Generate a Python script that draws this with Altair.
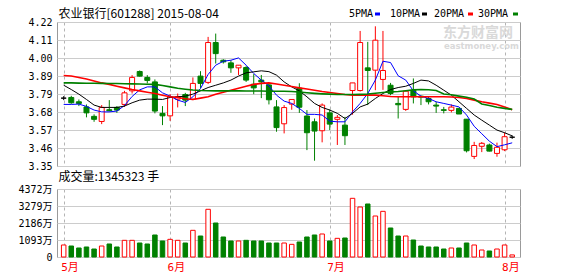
import altair as alt
import pandas as pd

# ---------------- data ----------------
opens = [3.760, 3.764, 3.738, 3.707, 3.650, 3.619, 3.690, 3.704, 3.722, 3.804,
         3.921, 3.885, 3.858, 3.668, 3.653, 3.754, 3.782, 3.754, 3.893, 3.855,
         4.096, 3.989, 3.973, 3.943, 3.945, 3.844, 3.869, 3.840, 3.707, 3.605,
         3.724, 3.820, 3.652, 3.617, 3.563, 3.671, 3.632, 3.597, 3.806, 3.806,
         3.943, 3.929, 3.873, 3.838, 3.728, 3.692, 3.808, 3.772, 3.758, 3.718,
         3.690, 3.686, 3.698, 3.633, 3.408, 3.469, 3.477, 3.426, 3.448, 3.524]
highs = [3.772, 3.774, 3.752, 3.722, 3.662, 3.718, 3.748, 3.712, 3.804, 3.899,
         3.927, 3.899, 3.873, 3.712, 3.784, 3.788, 3.792, 3.885, 3.923, 4.130,
         4.150, 3.995, 3.989, 3.960, 3.953, 3.905, 3.900, 3.852, 3.748, 3.718,
         3.752, 3.850, 3.688, 3.637, 3.728, 3.692, 3.658, 3.647, 3.852, 4.166,
         4.100, 4.194, 4.166, 3.852, 3.768, 3.808, 3.879, 3.775, 3.768, 3.738,
         3.707, 3.722, 3.700, 3.633, 3.496, 3.495, 3.485, 3.491, 3.552, 3.535]
lows = [3.748, 3.726, 3.712, 3.644, 3.617, 3.603, 3.680, 3.671, 3.707, 3.788,
        3.890, 3.849, 3.668, 3.597, 3.623, 3.704, 3.712, 3.748, 3.820, 3.845,
        3.969, 3.969, 3.913, 3.900, 3.858, 3.784, 3.760, 3.722, 3.557, 3.547,
        3.690, 3.671, 3.446, 3.382, 3.493, 3.567, 3.477, 3.477, 3.660, 3.800,
        3.718, 3.808, 3.810, 3.778, 3.637, 3.683, 3.728, 3.718, 3.722, 3.671,
        3.668, 3.674, 3.664, 3.432, 3.392, 3.434, 3.438, 3.406, 3.440, 3.514]
closes = [3.760, 3.732, 3.728, 3.671, 3.632, 3.704, 3.684, 3.688, 3.792, 3.885,
          3.893, 3.867, 3.682, 3.653, 3.768, 3.768, 3.748, 3.849, 3.849, 4.096,
          4.029, 3.979, 3.943, 3.959, 3.869, 3.822, 3.858, 3.750, 3.582, 3.703,
          3.752, 3.705, 3.551, 3.561, 3.718, 3.603, 3.644, 3.533, 3.852, 4.096,
          3.927, 4.110, 3.927, 3.788, 3.720, 3.802, 3.768, 3.766, 3.738, 3.712,
          3.686, 3.706, 3.664, 3.442, 3.474, 3.487, 3.440, 3.463, 3.527, 3.524]
volumes = [772, 707, 579, 643, 514, 707, 836, 643, 1072, 1072,
           900, 836, 1415, 1029, 1136, 1072, 900, 1715, 1350, 3067,
           2186, 1286, 1029, 1029, 1072, 1029, 1029, 900, 900, 900,
           814, 965, 1286, 1415, 1479, 1029, 1200, 1222, 3773, 3215,
           3408, 2636, 2936, 1865, 1350, 1350, 1093, 707, 643, 643,
           514, 579, 579, 900, 772, 450, 386, 514, 772, 134.5]
ma5 = [3.722, 3.722, 3.724, 3.710, 3.688, 3.677, 3.677, 3.682, 3.715, 3.770,
       3.810, 3.828, 3.828, 3.792, 3.772, 3.748, 3.734, 3.768, 3.818, 3.903,
       3.959, 3.983, 3.989, 4.003, 3.959, 3.909, 3.869, 3.834, 3.778, 3.742,
       3.728, 3.698, 3.662, 3.662, 3.658, 3.621, 3.617, 3.617, 3.677, 3.728,
       3.788, 3.869, 3.983, 3.975, 3.895, 3.869, 3.804, 3.772, 3.758, 3.738,
       3.728, 3.718, 3.707, 3.658, 3.590, 3.545, 3.500, 3.467, 3.478, 3.490]
ma10 = [3.838, 3.812, 3.784, 3.752, 3.718, 3.704, 3.704, 3.704, 3.712, 3.732,
        3.748, 3.754, 3.754, 3.752, 3.764, 3.768, 3.772, 3.784, 3.804, 3.824,
        3.838, 3.852, 3.869, 3.893, 3.913, 3.919, 3.925, 3.920, 3.899, 3.858,
        3.828, 3.804, 3.768, 3.728, 3.704, 3.688, 3.668, 3.637, 3.668, 3.707,
        3.724, 3.758, 3.788, 3.812, 3.824, 3.832, 3.849, 3.869, 3.864, 3.838,
        3.808, 3.778, 3.738, 3.698, 3.658, 3.627, 3.597, 3.567, 3.551, 3.532]
ma20 = [3.897, 3.894, 3.885, 3.876, 3.864, 3.852, 3.843, 3.832, 3.822, 3.812,
        3.804, 3.796, 3.788, 3.778, 3.768, 3.764, 3.756, 3.752, 3.760, 3.768,
        3.784, 3.796, 3.808, 3.820, 3.832, 3.843, 3.849, 3.852, 3.845, 3.838,
        3.830, 3.822, 3.815, 3.808, 3.800, 3.794, 3.788, 3.782, 3.778, 3.778,
        3.778, 3.778, 3.774, 3.770, 3.768, 3.768, 3.768, 3.768, 3.768, 3.768,
        3.768, 3.767, 3.764, 3.758, 3.748, 3.738, 3.730, 3.722, 3.707, 3.690]
ma30 = [3.852, 3.852, 3.851, 3.850, 3.850, 3.849, 3.848, 3.848, 3.847, 3.846,
        3.845, 3.844, 3.843, 3.836, 3.828, 3.820, 3.814, 3.809, 3.806, 3.805,
        3.804, 3.804, 3.804, 3.804, 3.803, 3.803, 3.803, 3.802, 3.802, 3.802,
        3.800, 3.797, 3.793, 3.789, 3.786, 3.784, 3.782, 3.782, 3.782, 3.783,
        3.785, 3.790, 3.794, 3.798, 3.800, 3.805, 3.810, 3.812, 3.811, 3.806,
        3.785, 3.780, 3.772, 3.765, 3.755, 3.725, 3.715, 3.705, 3.698, 3.692]

month_idx = [0, 14, 35, 58]
month_labels = ["5月", "6月", "7月", "8月"]
price_ticks = [3.35, 3.45875, 3.5675, 3.67625, 3.785, 3.89375, 4.0025, 4.11125, 4.22]
price_labels = ["3.35", "3.46", "3.57", "3.68", "3.79", "3.89", "4.00", "4.11", "4.22"]
vol_ticks = [0, 1093, 2186, 3279, 4372]
vol_labels = ["0", "1093万", "2186万", "3279万", "4372万"]
title_text = "农业银行[601288] 2015-08-04"
vol_title = "成交量:1345323 手"
ma_names = ["5PMA", "10PMA", "20PMA", "30PMA"]
ma_fields = ["ma5", "ma10", "ma20", "ma30"]
ma_colors = ["#0000ff", "#000000", "#ff0000", "#008000"]
watermark_cn = "东方财富网"
watermark_en = "eastmoney.com"

# ---------------- chart ----------------
df = pd.DataFrame({"i": list(range(len(opens))), "open": opens, "high": highs,
                   "low": lows, "close": closes, "volume": volumes,
                   "ma5": ma5, "ma10": ma10, "ma20": ma20, "ma30": ma30})


def label_expr(vals, labels):
    expr = "''"
    for v, l in reversed(list(zip(vals, labels))):
        expr = f"abs(datum.value - {v}) < 1e-6 ? '{l}' : ({expr})"
    return expr


W, H1, H2 = 463, 144, 68
MONO = "DejaVu Sans Mono, Noto Sans CJK SC"
CJK = "Noto Sans CJK SC"

x_scale = alt.Scale(domain=[-0.22, 59.37], nice=False, zero=False)
p_scale = alt.Scale(domain=[3.35, 4.22], nice=False, zero=False)
v_scale = alt.Scale(domain=[0, 4372], nice=False, zero=True)

dir_expr = "datum.close > datum.open ? 'up' : (datum.close < datum.open ? 'down' : 'flat')"
stroke_scale = alt.Scale(domain=["up", "down", "flat"], range=["#ff0000", "#008000", "#000000"])
fill_scale = alt.Scale(domain=["up", "down", "flat"], range=["#ffffff", "#008000", "#000000"])

base = alt.Chart(df).transform_calculate(dir=dir_expr)

x_axis_price = alt.Axis(values=month_idx, tickCount=60, grid=True, gridDash=[3, 3],
                        gridColor="#b4b4b4", labels=False, ticks=False, domain=False,
                        title=None)
y_axis_price = alt.Axis(values=price_ticks, tickCount=40,
                        labelExpr=label_expr(price_ticks, price_labels),
                        grid=True, title=None, minExtent=40, maxExtent=40,
                        labelOverlap=False, labelFlush=False)

wick = base.mark_rule(strokeWidth=1).encode(
    x=alt.X("i:Q", scale=x_scale, axis=x_axis_price, title=None),
    y=alt.Y("low:Q", scale=p_scale, axis=y_axis_price, title=None),
    y2="high:Q",
    color=alt.Color("dir:N", scale=stroke_scale, legend=None),
)
body = base.mark_bar(size=5, strokeWidth=1).encode(
    x=alt.X("i:Q", title=None),
    y=alt.Y("open:Q", title=None),
    y2="close:Q",
    fill=alt.Fill("dir:N", scale=fill_scale, legend=None),
    stroke=alt.Stroke("dir:N", scale=stroke_scale, legend=None),
)

lines = []
for f, c in zip(ma_fields, ma_colors):
    w = 1.6 if c in ("#ff0000", "#008000") else 1
    lines.append(alt.Chart(df).mark_line(color=c, strokeWidth=w).encode(
        x=alt.X("i:Q", title=None), y=alt.Y(f"{f}:Q", title=None)))

one = pd.DataFrame({"t": [title_text]})
title_mark = alt.Chart(one).mark_text(align="left", baseline="middle", font=CJK,
                                      fontSize=12, color="#000000").encode(
    x=alt.value(1.5), y=alt.value(-8), text="t:N")

# legend (label then short coloured dash)
leg_label_x = [292, 333, 377, 421]
leg_dash_x = [318, 365, 411, 456]
legend_layers = []
for name, c, lx, dx in zip(ma_names, ma_colors, leg_label_x, leg_dash_x):
    legend_layers.append(alt.Chart(pd.DataFrame({"t": [name]})).mark_text(
        align="left", baseline="middle", font=MONO, fontSize=10, color="#000000").encode(
        x=alt.value(lx), y=alt.value(-8), text="t:N"))
    legend_layers.append(alt.Chart(pd.DataFrame({"t": [name]})).mark_rect(color=c).encode(
        x=alt.value(dx), x2=alt.value(dx + 5), y=alt.value(-9.5), y2=alt.value(-6.5)))

wm1 = alt.Chart(pd.DataFrame({"t": [watermark_cn]})).mark_text(
    align="left", baseline="middle", font=CJK, fontSize=14, fontWeight="bold",
    color="#d9d9d9").encode(x=alt.value(386), y=alt.value(11), text="t:N")
wm2 = alt.Chart(pd.DataFrame({"t": [watermark_en]})).mark_text(
    align="left", baseline="middle", font="DejaVu Sans", fontSize=8.5, fontWeight="bold",
    color="#d9d9d9").encode(x=alt.value(387), y=alt.value(24), text="t:N")

price = alt.layer(wick, body, *lines, wm1, wm2, title_mark, *legend_layers).properties(
    width=W, height=H1)

vbase = alt.Chart(df).transform_calculate(
    vdir="datum.close >= datum.open ? 'up' : 'down'")
x_axis_vol = alt.Axis(values=month_idx, tickCount=60, grid=True, gridDash=[3, 3],
                      gridColor="#b4b4b4",
                      labelExpr=label_expr(month_idx, month_labels), labelColor="#ff0000",
                      labelAlign="left", labelOffset=-3, labelFont=MONO, labelFontSize=11,
                      labelPadding=4, ticks=False, domain=False, title=None,
                      labelOverlap=False, labelFlush=False)
y_axis_vol = alt.Axis(values=vol_ticks, tickCount=40,
                      labelExpr=label_expr(vol_ticks, vol_labels),
                      grid=True, title=None, minExtent=40, maxExtent=40,
                      labelOverlap=False, labelFlush=False)
vbars = vbase.mark_bar(size=4.5, strokeWidth=1).encode(
    x=alt.X("i:Q", scale=x_scale, axis=x_axis_vol, title=None),
    y=alt.Y("volume:Q", scale=v_scale, axis=y_axis_vol, title=None),
    fill=alt.Fill("vdir:N", scale=fill_scale, legend=None),
    stroke=alt.Stroke("vdir:N", scale=stroke_scale, legend=None),
)
vt = alt.Chart(pd.DataFrame({"t": [vol_title]})).mark_text(
    align="left", baseline="middle", font=CJK, fontSize=12, color="#000000").encode(
    x=alt.value(1.5), y=alt.value(-12), text="t:N")
volume = alt.layer(vbars, vt).properties(width=W, height=H2)

chart = alt.vconcat(price, volume, spacing=23, bounds="flush").properties(
    padding={"left": 16, "top": 7, "right": 0, "bottom": 0},
    background="#ffffff",
).configure_view(stroke="#9a9a9a", strokeWidth=1).configure_axis(
    labelFont=MONO, labelFontSize=10, labelColor="#000000", gridColor="#cccccc",
    gridWidth=1, domain=False, ticks=False, labelPadding=5)

chart.save("out.html", embed_options={"renderer": "svg", "actions": False})
